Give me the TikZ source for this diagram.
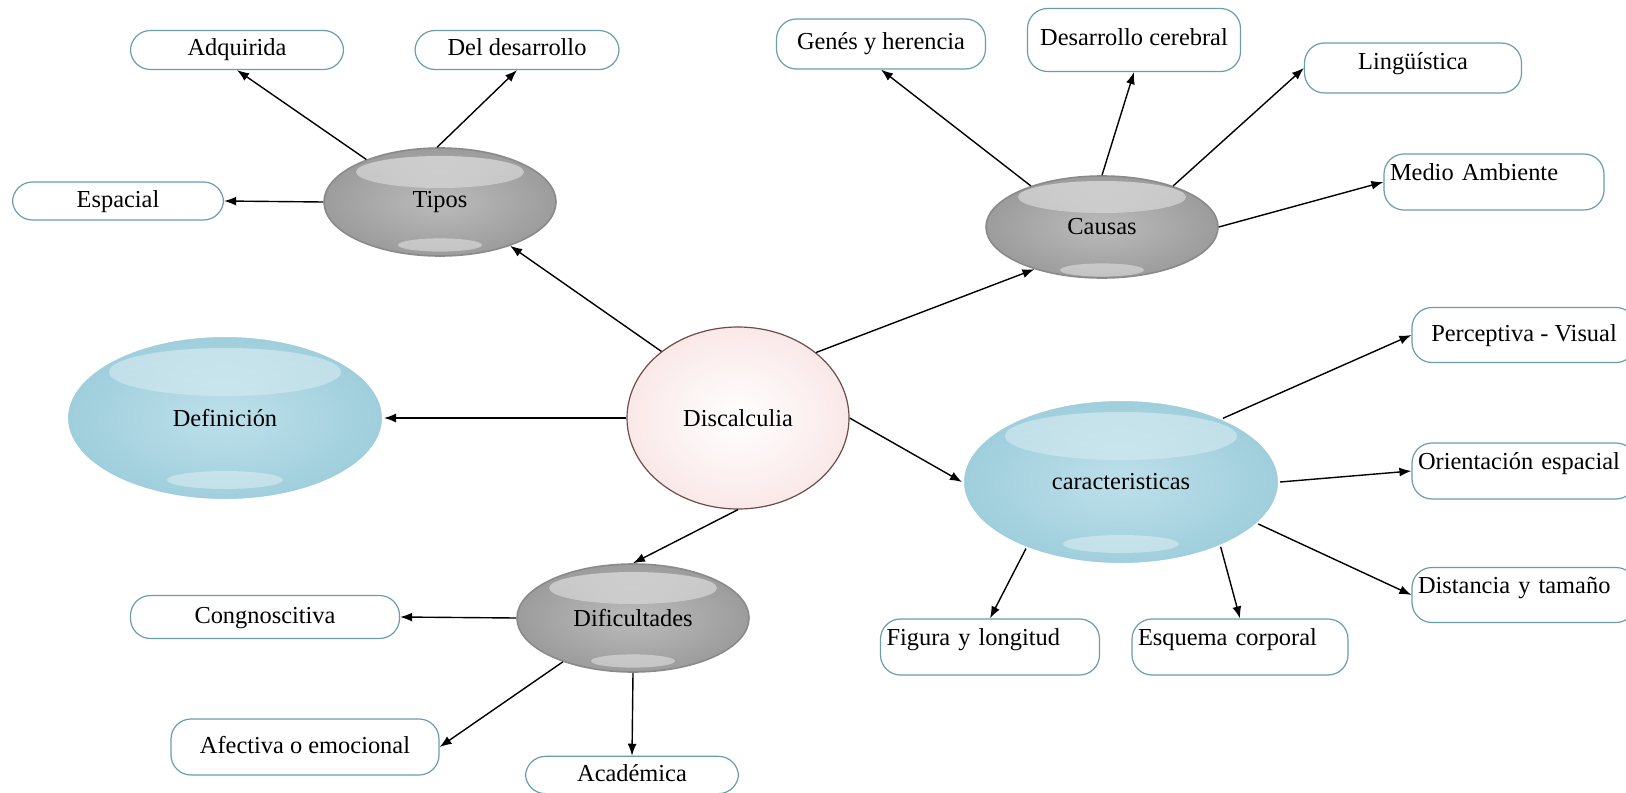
\documentclass[tikz,border=0pt]{standalone}
\usepackage{fontspec}
\setmainfont{Liberation Serif}
\usetikzlibrary{shapes.geometric, arrows.meta}

\definecolor{cadre}{HTML}{6A9EAA}
\definecolor{grisclaro}{HTML}{BBBBBB}
\definecolor{grisfond}{HTML}{9C9C9C}
\definecolor{grisbord}{HTML}{8A8A8A}
\definecolor{azulclaro}{HTML}{BDE0EA}
\definecolor{azulfond}{HTML}{9FCEDC}
\definecolor{rosefond}{HTML}{FAE8E8}
\definecolor{rosebord}{HTML}{6E4B4B}

\begin{document}
\begin{tikzpicture}[x=0.5pt, y=-0.5pt,
    every node/.style={font=\fontsize{12.2}{14}\selectfont},
    flecha/.style={-{Latex[length=6pt, width=4.5pt]}, line width=0.7pt},
    caja/.style={draw=cadre, fill=white, rounded corners=10pt, line width=0.6pt,
        text height=9pt, text depth=3pt, inner xsep=3pt},
    cajaalta/.style={caja, text depth=11pt, align=left},
    gris/.style={ellipse, draw=grisbord, line width=0.8pt, inner color=grisclaro,
        outer color=grisfond, minimum width=116pt, minimum height=54pt,
        path picture={
            \shade[top color=white, bottom color=grisclaro, opacity=.5]
                ([yshift=15pt]path picture bounding box.center) ellipse [x radius=42pt, y radius=8pt];
            \fill[white, opacity=.4]
                ([yshift=-21.5pt]path picture bounding box.center) ellipse [x radius=21pt, y radius=3.3pt];
        }},
    azul/.style={ellipse, draw=white, line width=1pt, inner color=azulclaro,
        outer color=azulfond, minimum width=158pt, minimum height=82pt,
        path picture={
            \shade[top color=white, bottom color=azulclaro, opacity=.4]
                ([yshift=23pt]path picture bounding box.center) ellipse [x radius=58pt, y radius=12pt];
            \fill[white, opacity=.35]
                ([yshift=-31pt]path picture bounding box.center) ellipse [x radius=29pt, y radius=4.5pt];
        }},
    centro/.style={ellipse, draw=rosebord, line width=0.6pt, inner color=white,
        outer color=rosefond, minimum width=111pt, minimum height=91pt}]

\path[use as bounding box, fill=white] (0,0) rectangle (1626,792);

% nodo central
\node[centro] (disc) at (738,418) {Discalculia};

% ramas
\node[gris] (tipos) at (440,202) {Tipos};
\node[gris, minimum height=51pt] (causas) at (1102,227) {Causas};
\node[gris] (dif) at (633,618) {Dificultades};
\node[azul] (defin) at (225,418) {Definición};
\node[azul] (car) at (1121,482) {caracteristicas};

% tipos
\node[caja, minimum width=106.5pt, minimum height=19.5pt] (adq) at (237,50) {Adquirida};
\node[caja, minimum width=102pt, minimum height=19.5pt] (deldes) at (517,50) {Del desarrollo};
\node[caja, minimum width=105.5pt, minimum height=19pt] (esp) at (118,201) {Espacial};

% causas
\node[caja, minimum width=104.5pt, minimum height=25pt] (genes) at (881,44) {Genés y herencia};
\node[caja, minimum width=106.5pt, minimum height=31.5pt] (desa) at (1134,40) {Desarrollo cerebral};
\node[caja, text depth=7pt, minimum width=108.5pt, minimum height=25pt] (ling) at (1413,68) {Lingüística};
\node[cajaalta, text width=104pt, minimum height=28pt] (medio) at (1494,182) {Medio Ambiente};

% caracteristicas
\node[caja, minimum width=112pt, minimum height=27.5pt] (percep) at (1524,335) {Perceptiva - Visual};
\node[cajaalta, text width=106pt, minimum height=28pt] (orient) at (1524,471) {Orientación espacial};
\node[cajaalta, text width=106pt, minimum height=27.5pt] (dist) at (1524,595) {Distancia y tamaño};
\node[cajaalta, text width=103.5pt, minimum height=28pt] (fig) at (990,647) {Figura y longitud};
\node[cajaalta, text width=102pt, minimum height=28pt] (esq) at (1240,647) {Esquema corporal};

% dificultades
\node[caja, minimum width=134.5pt, minimum height=21.5pt] (cong) at (265,617) {Congnoscitiva};
\node[caja, minimum width=134pt, minimum height=28pt] (afec) at (305,747) {Afectiva o emocional};
\node[caja, minimum width=106.5pt, minimum height=18.5pt] (acad) at (632,775) {Académica};

\foreach \a/\b in {disc.139/tipos.328, disc.40/causas.212, disc.west/defin.east,
    disc.east/car.west, disc.south/dif.north,
    tipos.150/adq.south, tipos.93/deldes.south, tipos.west/esp.east,
    causas.150/genes.south, causas.north/desa.south, causas.30/ling.west, causas.east/medio.west,
    car.32/percep.west, car.east/orient.west, car.-17/dist.west, car.215/fig.north, car.-33/esq.north,
    dif.west/cong.east, dif.212/afec.east, dif.south/acad.north}
    { \draw[flecha] (\a) -- (\b); }

\end{tikzpicture}
\end{document}
